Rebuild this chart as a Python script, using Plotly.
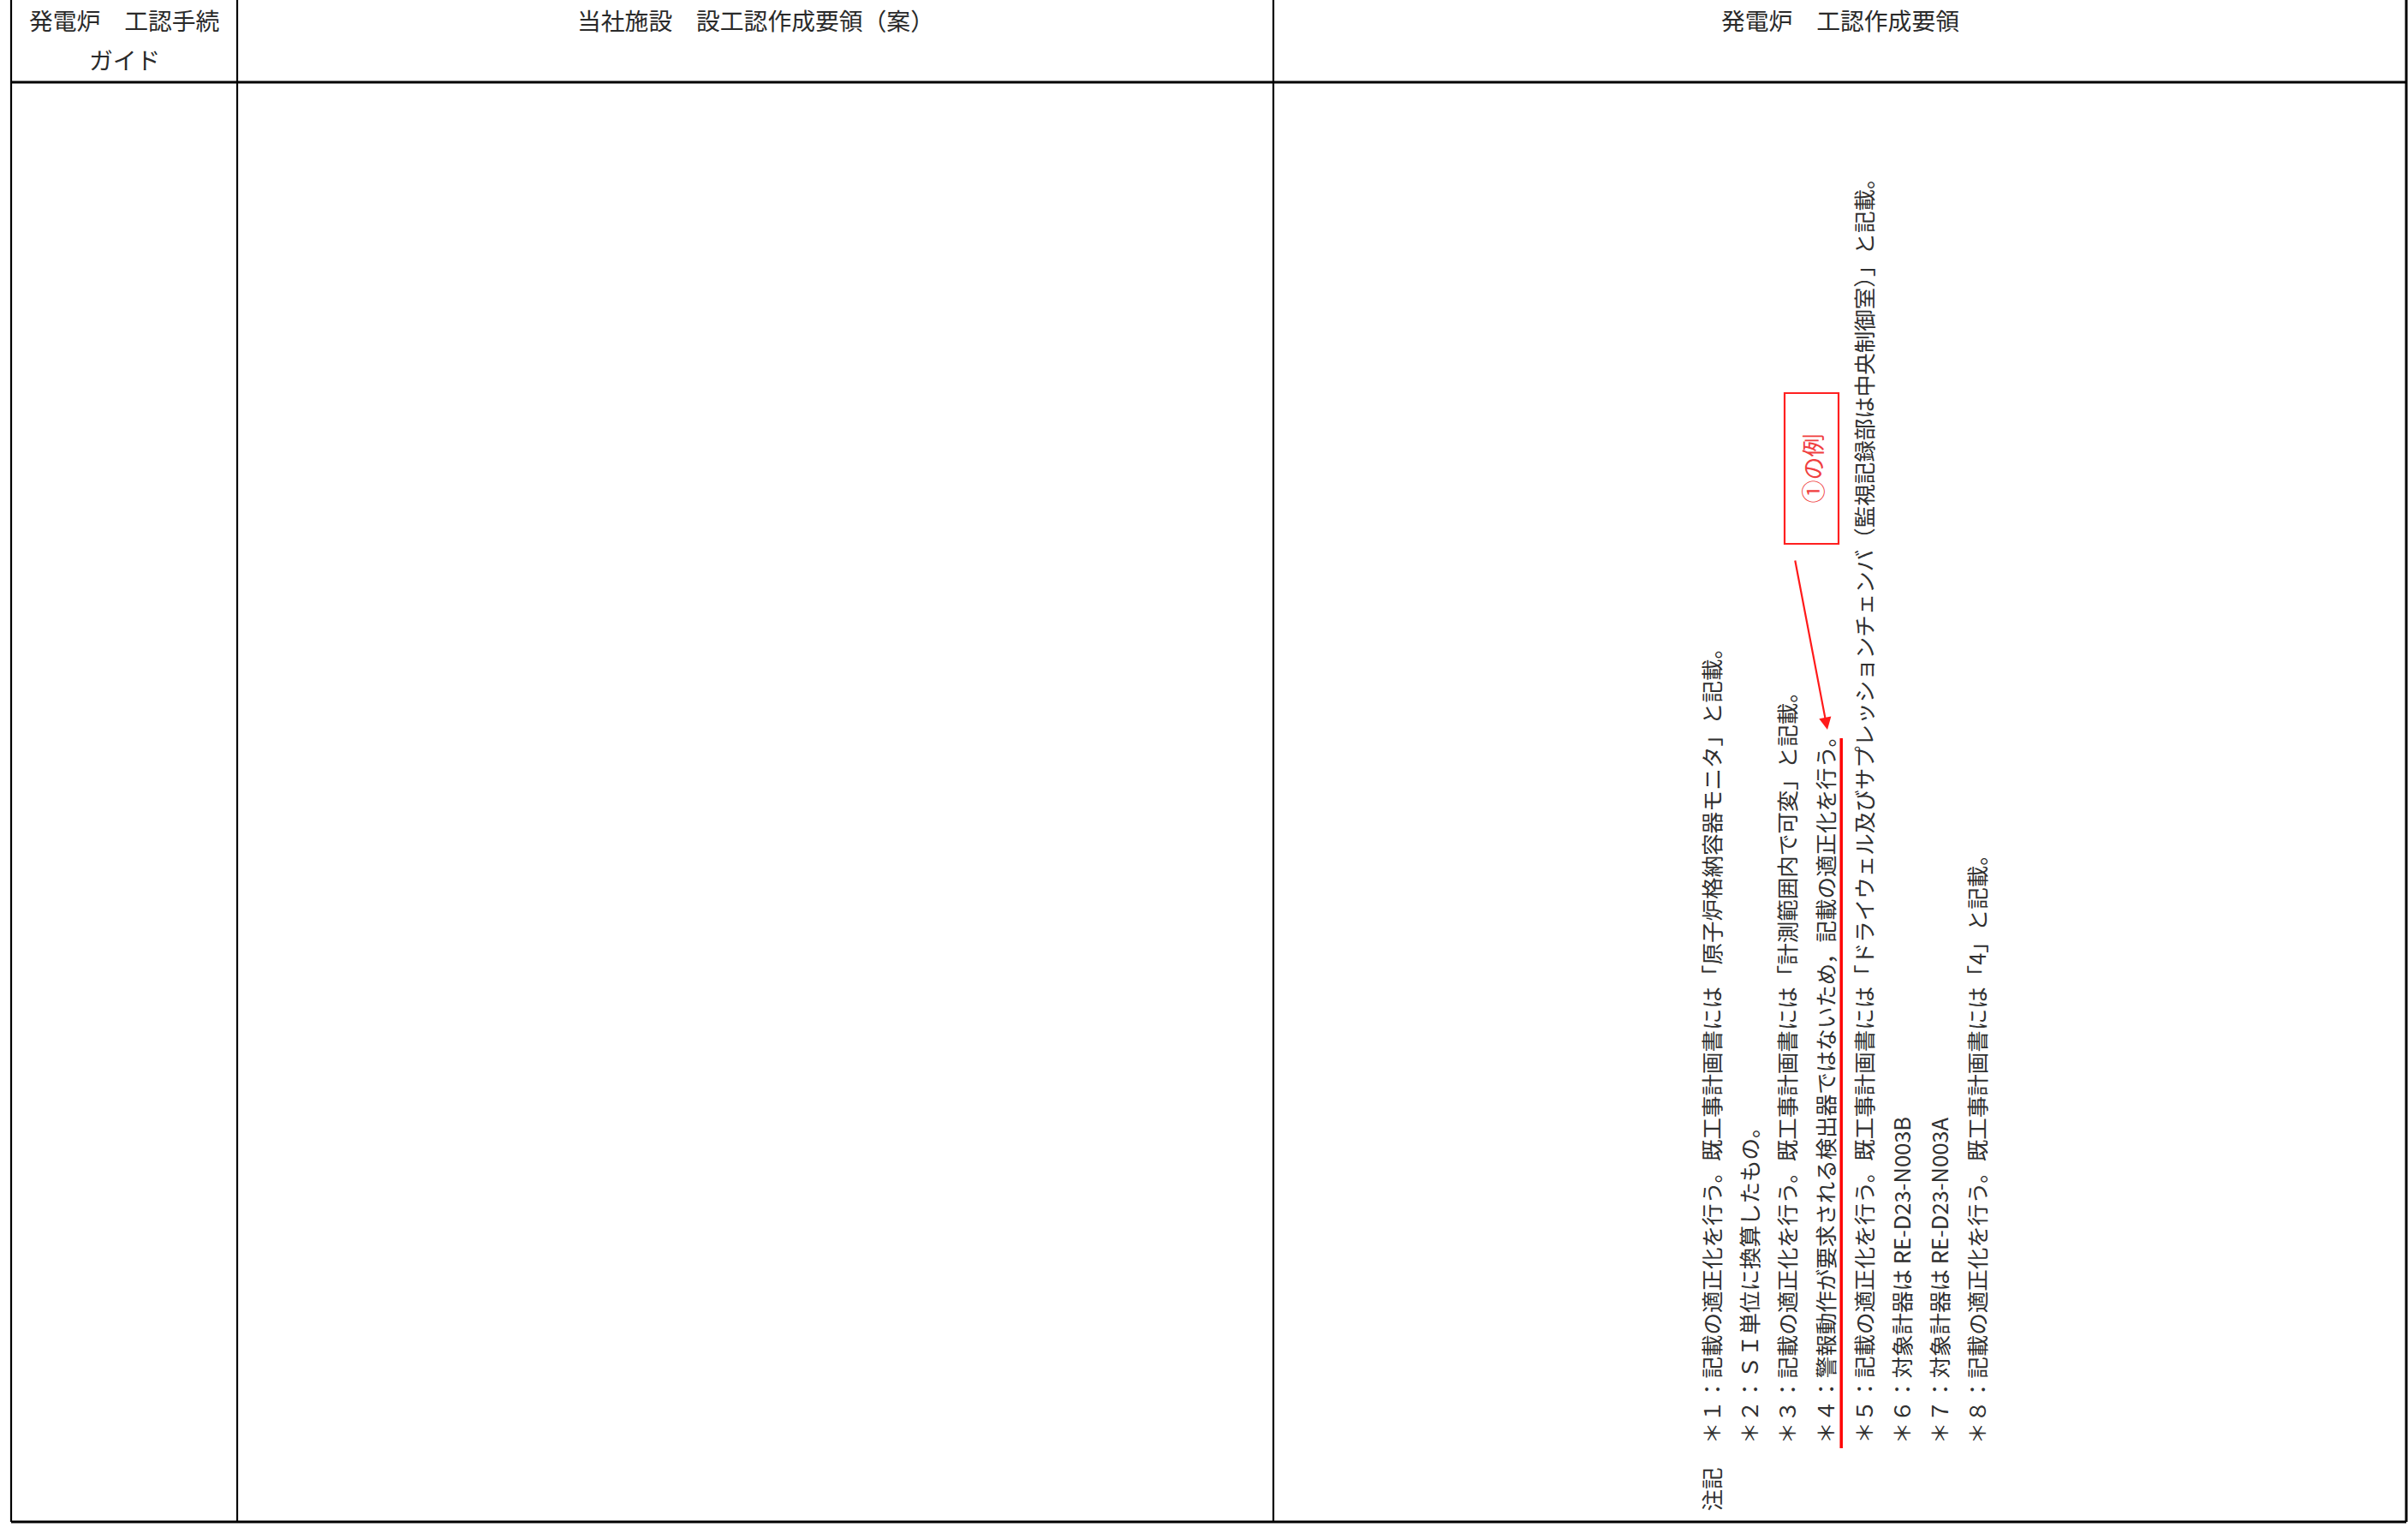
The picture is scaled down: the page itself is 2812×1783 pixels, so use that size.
import plotly.graph_objects as go

# ---------------- data (text content) ----------------
header_labels = ["発電炉　工認手続", "当社施設　設工認作成要領（案）", "発電炉　工認作成要領"]
header_sub = "ガイド"
note_title = "注記"
note_texts = [
    "＊１：記載の適正化を行う。既工事計画書には「原子炉格納容器モニタ」と記載。",
    "＊２：ＳＩ単位に換算したもの。",
    "＊３：記載の適正化を行う。既工事計画書には「計測範囲内で可変」と記載。",
    "＊４：警報動作が要求される検出器ではないため，記載の適正化を行う。",
    "＊５：記載の適正化を行う。既工事計画書には「ドライウェル及びサプレッションチェンバ（監視記録部は中央制御室）」と記載。",
    "＊６：対象計器は RE-D23-N003B",
    "＊７：対象計器は RE-D23-N003A",
    "＊８：記載の適正化を行う。既工事計画書には「4」と記載。",
]
callout_label = "①の例"
highlighted_note = 4  # note number marked in red

# ---------------- layout constants ----------------
W, H = 2812, 1783
FONT = "Noto Sans CJK JP"
col_edges = [13, 277, 1487, 2810]
header_bottom = 96
table_bottom = 1777
note_x0 = 1997
note_dx = 44.4
note_base = 1688

fig = go.Figure()

shapes = []
# vertical table lines
for i, xe in enumerate(col_edges):
    shapes.append(dict(type="line", x0=xe, x1=xe, y0=0, y1=table_bottom,
                       line=dict(color="#000", width=3 if i == len(col_edges) - 1 else 2.2)))
# horizontal lines
for ye in (header_bottom, table_bottom):
    shapes.append(dict(type="line", x0=col_edges[0], x1=col_edges[-1], y0=ye, y1=ye,
                       line=dict(color="#000", width=3)))

annotations = []
# header texts
hdr_y = 23
annotations.append(dict(x=(col_edges[0] + col_edges[1]) / 2, y=hdr_y, text=header_labels[0]))
annotations.append(dict(x=(col_edges[0] + col_edges[1]) / 2, y=69, text=header_sub))
annotations.append(dict(x=(col_edges[1] + col_edges[2]) / 2, y=hdr_y, text=header_labels[1]))
annotations.append(dict(x=(col_edges[2] + col_edges[3]) / 2, y=hdr_y, text=header_labels[2]))
for a in annotations:
    a.update(xref="x", yref="y", showarrow=False, xanchor="center", yanchor="middle",
             font=dict(family=FONT, size=27.8, color="#2a2a2a"))

# notes (rotated vertical text)
note_font = dict(family=FONT, size=25.5, color="#303030")
annotations.append(dict(x=note_x0, y=1767, text=note_title, textangle=-90, xref="x", yref="y",
                        showarrow=False, xanchor="center", yanchor="bottom", font=note_font))
for i, t in enumerate(note_texts):
    annotations.append(dict(x=note_x0 + i * note_dx, y=note_base, text=t, textangle=-90,
                            xref="x", yref="y", showarrow=False, xanchor="center",
                            yanchor="bottom", font=note_font))

# callout box, label, arrow and red marker line
box = dict(x0=2084, x1=2147, y0=459, y1=635)
shapes.append(dict(type="rect", **box, line=dict(color="#ff2020", width=2.2)))
annotations.append(dict(x=(box["x0"] + box["x1"]) / 2, y=(box["y0"] + box["y1"]) / 2,
                        text=callout_label, textangle=-90, xref="x", yref="y", showarrow=False,
                        xanchor="center", yanchor="middle",
                        font=dict(family=FONT, size=27, color="#f04040")))
annotations.append(dict(x=2134, y=852, ax=2096, ay=653, axref="x", ayref="y", xref="x", yref="y",
                        text="", showarrow=True, arrowhead=2, arrowsize=1.3, arrowwidth=2.2,
                        arrowcolor="#ff1a1a"))
red_x = note_x0 + (highlighted_note - 1) * note_dx + 20
shapes.append(dict(type="line", x0=red_x, x1=red_x, y0=862, y1=1691,
                   line=dict(color="#ff0000", width=3.5)))

fig.update_layout(
    width=W, height=H, margin=dict(l=0, r=0, t=0, b=0),
    paper_bgcolor="white", plot_bgcolor="white",
    xaxis=dict(range=[0, W], visible=False, fixedrange=True),
    yaxis=dict(range=[H, 0], visible=False, fixedrange=True),
    shapes=shapes, annotations=annotations, showlegend=False,
)

fig.write_html("out.html", config={"displayModeBar": False},
               post_script="document.body.style.margin='0';document.body.style.overflow='hidden';")
